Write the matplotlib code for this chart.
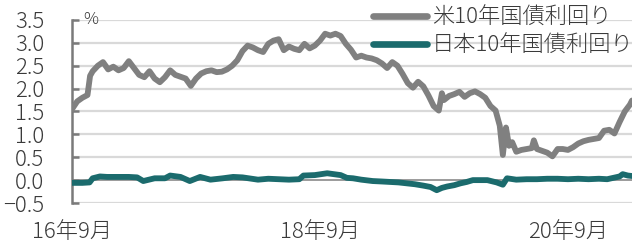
import matplotlib
matplotlib.use("Agg")
import matplotlib.pyplot as plt

plt.rcParams['font.family'] = ['Noto Sans CJK JP', 'DejaVu Sans']

# months since Sep 2016
us_months = [0, 0.5, 1.0, 1.5, 1.75, 2.0, 2.5, 3.0, 3.5, 4.0, 4.5, 5.0, 5.5, 6.0, 6.5, 7.0,
             7.5, 8.0, 8.5, 9.0, 9.5, 10.0, 10.5, 11.0, 11.5, 12.0, 12.5, 13.0, 13.5, 14.0,
             14.5, 15.0, 15.5, 16.0, 16.5, 17.0, 17.5, 18.0, 18.5, 19.0, 19.5, 20.0, 20.5,
             21.0, 21.5, 22.0, 22.5, 23.0, 23.5, 24.0, 24.5, 25.0, 25.5, 26.0, 26.5, 27.0,
             27.5, 28.0, 28.5, 29.0, 29.5, 30.0, 30.5, 31.0, 31.5, 32.0, 32.5, 33.0, 33.5,
             34.0, 34.5, 35.0, 35.5, 35.8, 36.0, 36.5, 37.0, 37.5, 38.0, 38.5, 39.0, 39.5,
             40.0, 40.5, 41.0, 41.4, 41.7, 42.0, 42.3, 42.6, 43.0, 43.5, 44.0, 44.5, 44.7,
             45.0, 45.5, 46.0, 46.5, 47.0, 47.5, 48.0, 48.5, 49.0, 49.5, 50.0, 50.5, 51.0,
             51.5, 52.0, 52.5, 53.0, 53.5, 54.0, 54.2]
us_yield = [1.55, 1.72, 1.80, 1.86, 2.28, 2.38, 2.50, 2.58, 2.42, 2.48, 2.40, 2.45, 2.60, 2.45,
            2.30, 2.25, 2.38, 2.22, 2.14, 2.25, 2.40, 2.30, 2.26, 2.22, 2.06, 2.22, 2.33, 2.38,
            2.40, 2.36, 2.37, 2.42, 2.50, 2.62, 2.82, 2.94, 2.90, 2.84, 2.80, 2.98, 3.05, 3.08,
            2.84, 2.92, 2.87, 2.84, 2.98, 2.88, 2.94, 3.05, 3.20, 3.16, 3.20, 3.15, 2.98, 2.85,
            2.68, 2.72, 2.68, 2.66, 2.62, 2.55, 2.45, 2.58, 2.50, 2.32, 2.12, 2.02, 2.15, 2.05,
            1.85, 1.62, 1.52, 1.90, 1.75, 1.84, 1.88, 1.93, 1.82, 1.90, 1.94, 1.88, 1.80, 1.62,
            1.52, 1.19, 0.55, 1.15, 0.75, 0.83, 0.62, 0.66, 0.68, 0.70, 0.87, 0.68, 0.64, 0.60,
            0.52, 0.68, 0.68, 0.66, 0.72, 0.80, 0.85, 0.88, 0.90, 0.92, 1.08, 1.10, 1.02, 1.27,
            1.50, 1.65, 1.74]

jp_months = [0, 1.0, 1.7, 2.0, 2.7, 3.4, 4.5, 5.5, 6.3, 6.9, 8.0, 9.0, 9.5, 10.5, 11.4, 12.4,
             13.4, 14.6, 15.6, 16.5, 18.0, 19.0, 20.0, 21.0, 22.0, 22.4, 23.5, 24.7, 26.0, 26.6,
             27.2, 28.0, 29.1, 30.0, 30.8, 31.6, 32.4, 33.2, 34.0, 34.7, 35.3, 35.8, 36.3, 37.0,
             37.6, 38.2, 38.8, 39.5, 40.2, 41.1, 41.7, 42.1, 43.0, 44.0, 45.0, 46.0, 47.0, 48.0,
             49.0, 50.0, 51.0, 51.8, 52.4, 53.0, 53.3, 53.8, 54.2]
jp_yield = [-0.06, -0.06, -0.05, 0.04, 0.08, 0.07, 0.07, 0.07, 0.06, -0.02, 0.04, 0.04, 0.10,
            0.07, -0.02, 0.07, 0.01, 0.04, 0.07, 0.06, 0.01, 0.03, 0.02, 0.01, 0.02, 0.10,
            0.11, 0.15, 0.11, 0.05, 0.04, 0.01, -0.02, -0.03, -0.04, -0.05, -0.07, -0.09, -0.12,
            -0.15, -0.22, -0.17, -0.14, -0.11, -0.07, -0.04, 0.00, 0.00, 0.00, -0.05, -0.10,
            0.04, 0.01, 0.02, 0.02, 0.03, 0.03, 0.02, 0.03, 0.02, 0.03, 0.02, 0.05, 0.08, 0.13,
            0.10, 0.09]

x_tick_pos = [0, 24, 48]
x_tick_labels = ['16年9月', '18年9月', '20年9月']
y_ticks = [-0.5, 0.0, 0.5, 1.0, 1.5, 2.0, 2.5, 3.0, 3.5]

us_color = '#808080'
jp_color = '#1b6b6d'
grid_color = '#d9d9d9'
axis_color = '#7a7a7a'
text_color = '#3a3a3a'
FS = 16

fig = plt.figure(figsize=(6.4, 2.49), dpi=100)
ax = fig.add_axes([72/640, 1-203/249, (632-72)/640, (203-20)/249])

for y in y_ticks:
    if y != 0:
        ax.axhline(y, color=grid_color, lw=1.6, zorder=1)
ax.axhline(0, color='#8a8a8a', lw=1.2, zorder=2)

ax.plot(us_months, us_yield, color=us_color, lw=4.2, solid_capstyle='round',
        solid_joinstyle='round', label='米10年国債利回り', zorder=3)
ax.plot(jp_months, jp_yield, color=jp_color, lw=4.2, solid_capstyle='round',
        solid_joinstyle='round', label='日本10年国債利回り', zorder=4)

ax.set_xlim(0, 54.2)
ax.set_ylim(-0.5, 3.5)
ax.set_yticks(y_ticks)
ax.set_yticklabels([f'{v:.1f}'.replace('-', '−') for v in y_ticks])
ax.set_xticks(x_tick_pos)
ax.set_xticklabels(x_tick_labels)

for s in ['top', 'right', 'bottom']:
    ax.spines[s].set_visible(False)
ax.spines['left'].set_color(axis_color)
ax.spines['left'].set_linewidth(1.8)

ax.tick_params(axis='y', direction='in', length=5, width=1.8, color=axis_color,
               labelsize=FS, labelcolor=text_color, pad=20)
ax.tick_params(axis='x', length=0, labelsize=FS, labelcolor=text_color, pad=13)
for lab in ax.get_xticklabels() + ax.get_yticklabels():
    lab.set_fontweight('light')

fig.text(83/640, 1-20/249, '%', fontsize=12, color=text_color, ha='left', va='center',
         fontweight='light')

leg = ax.legend(loc='upper right', bbox_to_anchor=(634/640, 1-7/249),
                bbox_transform=fig.transFigure, frameon=False, fontsize=FS,
                handlelength=2.4, handletextpad=0.25, labelspacing=0.25,
                borderpad=0, borderaxespad=0)
for t in leg.get_texts():
    t.set_color(text_color)
    t.set_fontweight('light')
for h in leg.get_lines():
    h.set_linewidth(4.8)

fig.savefig('out.png', dpi=100, facecolor='white')
